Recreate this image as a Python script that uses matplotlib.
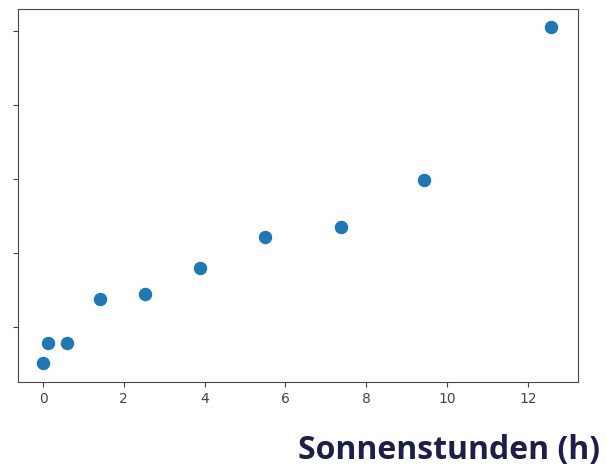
import matplotlib
matplotlib.use("Agg")
import matplotlib.pyplot as plt

sonnenstunden = [0.0, 0.12, 0.6, 1.41, 2.52, 3.89, 5.5, 7.38, 9.43, 12.57]
werte = [2.57, 3.92, 3.92, 6.89, 7.23, 8.99, 11.08, 11.76, 14.93, 25.27]
x_ticks = [0, 2, 4, 6, 8, 10, 12]
y_ticks = [5, 10, 15, 20, 25]
x_label = "Sonnenstunden (h)"

fig = plt.figure(figsize=(6.07, 4.70), dpi=100)
ax = fig.add_axes([18/607, 1-382/470, (578-18)/607, (382-9)/470])
ax.scatter(sonnenstunden, werte, s=75, color="#1f77b4", zorder=3)
ax.set_xlim(-0.62, 13.24)
ax.set_ylim(1.28, 26.5)
ax.set_xticks(x_ticks)
ax.set_yticks(y_ticks)
ax.set_yticklabels([])
ax.tick_params(colors="#444444", labelsize=10)
for sp in ax.spines.values():
    sp.set_color("#444444")
fig.text(600/607, 1-459/470, x_label, ha="right", va="baseline",
         fontsize=23, fontweight="bold", color="#1e1e4a", family="Open Sans")
fig.savefig("out.png", dpi=100)
